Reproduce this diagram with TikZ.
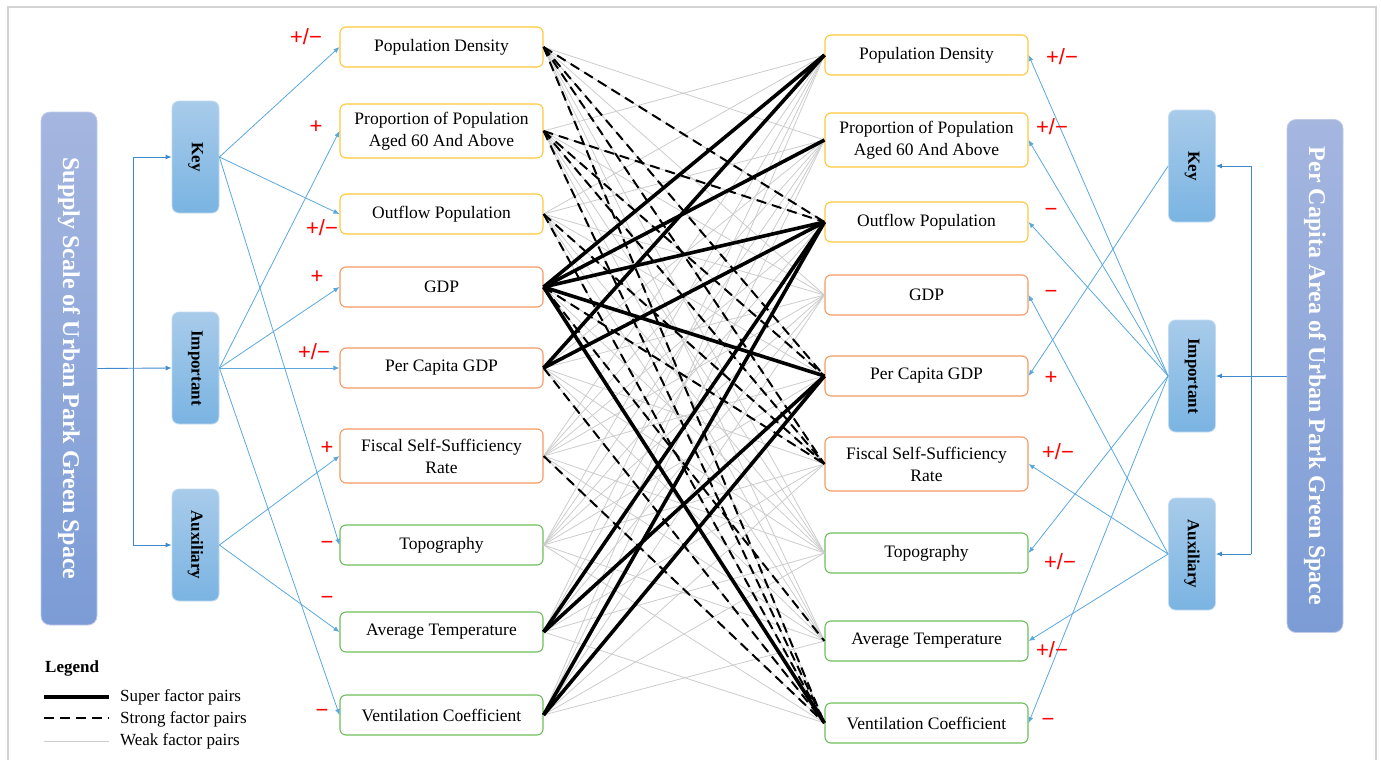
\documentclass[tikz,border=0pt]{standalone}
\usepackage{fontspec}
\setmainfont{Liberation Serif}
\newfontfamily\signfont{Liberation Sans}
\usetikzlibrary{arrows.meta}
\definecolor{cy}{HTML}{FFC73A}
\definecolor{co}{HTML}{F59A62}
\definecolor{cg}{HTML}{6DBE5A}
\definecolor{bigtop}{HTML}{A5B6DF}
\definecolor{bigbot}{HTML}{7C9CD6}
\definecolor{midtop}{HTML}{A8CBEA}
\definecolor{midbot}{HTML}{7AB4E2}
\definecolor{lnk}{HTML}{5AA8DE}
\definecolor{lnkd}{HTML}{3F89CE}
\definecolor{frm}{HTML}{D4D4D4}
\begin{document}
\begin{tikzpicture}[x=1pt,y=-1pt,
 fbox/.style={draw, line width=1.1pt, rounded corners=6pt, minimum width=203pt, fill=white, inner sep=0pt, font=\fontsize{17.5}{22}\selectfont, align=center},
 bigb/.style={rounded corners=9pt, minimum width=56pt, minimum height=513pt, top color=bigtop, bottom color=bigbot, draw=bigtop!70!white, line width=0.8pt},
 midb/.style={rounded corners=7pt, minimum width=47pt, minimum height=112pt, top color=midtop, bottom color=midbot, draw=midtop!70!white, line width=0.8pt},
 bigt/.style={rotate=-90, text=white, font=\fontsize{24}{28}\selectfont\bfseries},
 midt/.style={rotate=-90, font=\fontsize{17}{20}\selectfont\bfseries},
 weak/.style={draw=black!20, line width=0.8pt},
 strong/.style={draw=black, line width=2pt, dash pattern=on 10pt off 6pt},
 super/.style={draw=black, line width=3.6pt},
 lnkline/.style={draw=lnk, line width=0.8pt, -{Latex[length=6pt,width=5pt]}},
 lnkdark/.style={draw=lnkd, line width=0.9pt},
 sgn/.style={text=red, font=\signfont\fontsize{22}{24}\selectfont, inner sep=0pt},
 legt/.style={anchor=west, font=\fontsize{17}{20}\selectfont, inner sep=0pt}
]
\useasboundingbox (0,0) rectangle (1381,760);
\draw[frm, line width=1.5pt] (8,770) -- (8,7) -- (1376,7) -- (1376,770);

% factor boxes
\node[fbox,draw=cy,minimum height=40pt] (L1) at (441.5,47) {Population Density};
\node[fbox,draw=cy,minimum height=54pt] (L2) at (441.5,131) {Proportion of Population\\Aged 60 And Above};
\node[fbox,draw=cy,minimum height=40pt] (L3) at (441.5,214) {Outflow Population};
\node[fbox,draw=co,minimum height=40pt] (L4) at (441.5,287) {GDP};
\node[fbox,draw=co,minimum height=40pt] (L5) at (441.5,368) {Per Capita GDP};
\node[fbox,draw=co,minimum height=54pt] (L6) at (441.5,456) {Fiscal Self-Sufficiency\\Rate};
\node[fbox,draw=cg,minimum height=40pt] (L7) at (441.5,545) {Topography};
\node[fbox,draw=cg,minimum height=40pt] (L8) at (441.5,632) {Average Temperature};
\node[fbox,draw=cg,minimum height=40pt] (L9) at (441.5,715) {Ventilation Coefficient};

\node[fbox,draw=cy,minimum height=40pt] (R1) at (926.5,55) {Population Density};
\node[fbox,draw=cy,minimum height=54pt] (R2) at (926.5,140) {Proportion of Population\\Aged 60 And Above};
\node[fbox,draw=cy,minimum height=40pt] (R3) at (926.5,222) {Outflow Population};
\node[fbox,draw=co,minimum height=40pt] (R4) at (926.5,295) {GDP};
\node[fbox,draw=co,minimum height=40pt] (R5) at (926.5,376) {Per Capita GDP};
\node[fbox,draw=co,minimum height=54pt] (R6) at (926.5,464) {Fiscal Self-Sufficiency\\Rate};
\node[fbox,draw=cg,minimum height=40pt] (R7) at (926.5,553) {Topography};
\node[fbox,draw=cg,minimum height=40pt] (R8) at (926.5,641) {Average Temperature};
\node[fbox,draw=cg,minimum height=40pt] (R9) at (926.5,723) {Ventilation Coefficient};

% factor pair lines
\foreach \i in {1,...,9}{\foreach \j in {1,...,9}{\ifnum\i=\j\relax\else\draw[weak] (L\i.east) -- (R\j.west);\fi}}
\foreach \i/\j in {1/3,1/5,1/6,1/9,2/3,2/5,2/6,2/9,3/6,3/9,4/6,4/8,5/9,6/9}{\draw[strong] (L\i.east) -- (R\j.west);}
\foreach \i/\j in {4/1,4/2,4/3,4/5,4/9,5/1,5/3,8/3,8/5,9/3,9/5}{\draw[super] (L\i.east) -- (R\j.west);}

% left side
\node[bigb] (sup) at (69,368.5) {};
\node[bigt] (suptxt) at (sup.center) {Supply Scale of Urban Park Green Space};
\node[midb] (key) at (195.5,157) {};
\node[midt] (keyt) at (key.center) {Key};
\node[midb] (imp) at (195.5,368) {};
\node[midt] (impt) at (imp.center) {Important};
\node[midb] (aux) at (195.5,545) {};
\node[midt] (auxt) at (aux.center) {Auxiliary};
\coordinate (lt) at (133,157);
\coordinate (lb) at (133,545);
\draw[lnkdark,-{Latex[length=6pt,width=5pt]}] (sup.east) -- (imp.west);
\draw[lnkdark] (lt) -- (lb);
\draw[lnkdark,-{Latex[length=6pt,width=5pt]}] (lt) -- (key.west);
\draw[lnkdark,-{Latex[length=6pt,width=5pt]}] (lb) -- (aux.west);
\foreach \t in {L1,L3,L7}{\draw[lnkline] (key.east) -- (\t.west);}
\foreach \t in {L2,L4,L5,L9}{\draw[lnkline] (imp.east) -- (\t.west);}
\foreach \t in {L6,L8}{\draw[lnkline] (aux.east) -- (\t.west);}

% right side
\node[bigb] (sup2) at (1315,376) {};
\node[bigt] (sup2txt) at (sup2.center) {Per Capita Area of Urban Park Green Space};
\node[midb] (key2) at (1192,166) {};
\node[midt] (key2t) at (key2.center) {Key};
\node[midb] (imp2) at (1192,376) {};
\node[midt] (imp2t) at (imp2.center) {Important};
\node[midb] (aux2) at (1192,554) {};
\node[midt] (aux2t) at (aux2.center) {Auxiliary};
\coordinate (rt) at (1251,166);
\coordinate (rb) at (1251,554);
\draw[lnkdark,-{Latex[length=6pt,width=5pt]}] (sup2.west) -- (imp2.east);
\draw[lnkdark] (rt) -- (rb);
\draw[lnkdark,-{Latex[length=6pt,width=5pt]}] (rt) -- (key2.east);
\draw[lnkdark,-{Latex[length=6pt,width=5pt]}] (rb) -- (aux2.east);
\foreach \t in {R5}{\draw[lnkline] (key2.west) -- (\t.east);}
\foreach \t in {R1,R2,R3,R7,R9}{\draw[lnkline] (imp2.west) -- (\t.east);}
\foreach \t in {R4,R6,R8}{\draw[lnkline] (aux2.west) -- (\t.east);}

% signs
\node[sgn] (s1) at (306,37) {+/−};
\node[sgn] (s2) at (316,127) {+};
\node[sgn] (s3) at (322,228) {+/−};
\node[sgn] (s4) at (317,277) {+};
\node[sgn] (s5) at (314,352) {+/−};
\node[sgn] (s6) at (327,448) {+};
\node[sgn] (s7) at (327,545) {−};
\node[sgn] (s8) at (327,600) {−};
\node[sgn] (s9) at (322,713) {−};
\node[sgn] (t1) at (1062,57) {+/−};
\node[sgn] (t2) at (1052,127) {+/−};
\node[sgn] (t3) at (1051,212) {−};
\node[sgn] (t4) at (1051,294) {−};
\node[sgn] (t5) at (1051,378) {+};
\node[sgn] (t6) at (1058,452) {+/−};
\node[sgn] (t7) at (1060,562) {+/−};
\node[sgn] (t8) at (1052,650) {+/−};
\node[sgn] (t9) at (1048,722) {−};

% legend
\node[legt,font=\fontsize{17}{20}\selectfont\bfseries] (leg) at (45,668) {Legend};
\coordinate (g1a) at (44,697); \coordinate (g1b) at (109,697);
\coordinate (g2a) at (44,718); \coordinate (g2b) at (109,718);
\coordinate (g3a) at (44,741); \coordinate (g3b) at (109,741);
\draw[super,line width=3.2pt] (g1a) -- (g1b);
\draw[strong] (g2a) -- (g2b);
\draw[weak] (g3a) -- (g3b);
\node[legt] (lg1) at (120,697) {Super factor pairs};
\node[legt] (lg2) at (120,719) {Strong factor pairs};
\node[legt] (lg3) at (120,741) {Weak factor pairs};
\end{tikzpicture}
\end{document}
